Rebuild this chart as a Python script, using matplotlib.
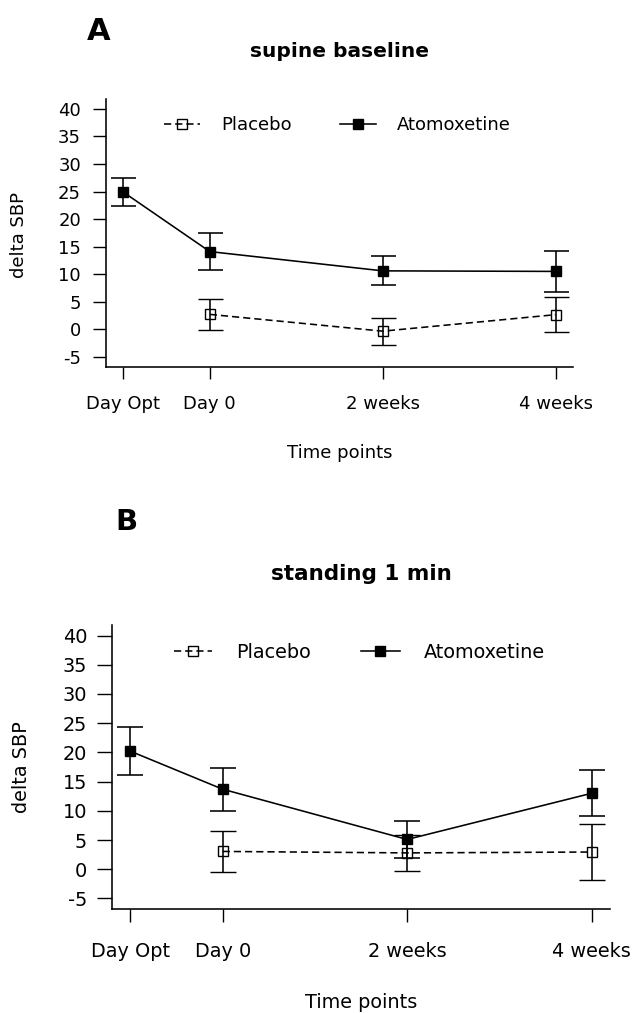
import matplotlib
matplotlib.use('Agg')
import matplotlib.pyplot as plt
from matplotlib.lines import Line2D

plt.rcParams['axes.unicode_minus'] = False

# ── data ─────────────────────────────────────────────────────────────────────
TIME_X      = [-1, 0, 2, 4]
TIME_LABELS = ['Day Opt', 'Day 0', '2 weeks', '4 weeks']
PLACEBO_X   = [0, 2, 4]
Y_TICKS     = [-5, 0, 5, 10, 15, 20, 25, 30, 35, 40]

# panel A: supine baseline
atom_a      = [24.9, 14.1, 10.6, 10.5]
atom_a_err  = [2.55, 3.4, 2.65, 3.75]
plac_a      = [2.7, -0.35, 2.65]
plac_a_err  = [2.85, 2.45, 3.2]

# panel B: standing 1 min
atom_b      = [20.2, 13.7, 5.1, 13.0]
atom_b_err  = [4.1, 3.7, 3.15, 3.95]
plac_b      = [3.05, 2.8, 2.95]
plac_b_err  = [3.5, 3.1, 4.85]

W, H = 633, 1013
LW = 1.15
DASH = (0, (4.5, 2.5))


def fx(px):
    return px / W


def fy(py):
    return 1 - py / H


def panel(fig, rect, letter, title, atom, atom_err, plac, plac_err, s, geo):
    ax = fig.add_axes(rect)
    ax.errorbar(PLACEBO_X, plac, yerr=plac_err, color='black', lw=LW,
                ls=DASH, marker='s', ms=6.8, mfc='none', mec='black',
                mew=1.0, capsize=geo['cap'], elinewidth=LW, capthick=LW)
    ax.errorbar(TIME_X, atom, yerr=atom_err, color='black', lw=LW, ls='-',
                marker='s', ms=6.8, mfc='black', mec='black',
                capsize=geo['cap'], elinewidth=LW, capthick=LW)

    ax.set_xlim(-1.2, 4.2)
    ax.set_ylim(-6.8, 41.8)
    ax.set_xticks(TIME_X)
    ax.set_xticklabels(TIME_LABELS)
    ax.set_yticks(Y_TICKS)
    ax.spines['top'].set_visible(False)
    ax.spines['right'].set_visible(False)
    for sp in ('left', 'bottom'):
        ax.spines[sp].set_linewidth(LW)
    ax.tick_params(axis='x', direction='out', length=geo['xlen'], width=1.0,
                   pad=geo['xpad'], labelsize=13 * s)
    ax.tick_params(axis='y', direction='out', length=geo['ylen'], width=1.0,
                   pad=geo['ypad'], labelsize=13 * s)

    handles = [
        Line2D([], [], color='black', lw=LW, ls=DASH, marker='s', ms=6.8,
               mfc='none', mec='black', mew=1.0),
        Line2D([], [], color='black', lw=LW, ls='-', marker='s', ms=6.8,
               mfc='black', mec='black'),
    ]
    ax.legend(handles, ['Placebo', 'Atomoxetine'], ncol=2, loc='center left',
              frameon=False,
              bbox_to_anchor=(fx(geo['leg_x']), fy(geo['leg_y'])),
              bbox_transform=fig.transFigure, fontsize=13 * s,
              borderpad=0, borderaxespad=0, handlelength=2.0,
              handletextpad=geo['htp'], columnspacing=geo['colsp'])

    fig.text(fx(geo['let_x']), fy(geo['let_y']), letter, fontsize=geo['let_fs'],
             fontweight='bold', va='baseline', ha='left')
    fig.text(fx(geo['cx']), fy(geo['title_y']), title, fontsize=14.5 * s,
             fontweight='bold', va='baseline', ha='center')
    fig.text(fx(geo['cx']), fy(geo['xlab_y']), 'Time points', fontsize=13 * s,
             va='baseline', ha='center')
    fig.text(fx(geo['ylab_x']), fy(geo['ylab_y']), 'delta SBP', fontsize=13 * s,
             rotation=90, va='center', ha='center')
    return ax


fig = plt.figure(figsize=(W / 100, H / 100), dpi=100)

panel(fig, [fx(106), fy(366.7), (573 - 106) / W, (366.7 - 99) / H],
      'A', 'supine baseline', atom_a, atom_a_err, plac_a, plac_a_err, 1.0,
      dict(cap=9.0, xlen=8.6, xpad=12, ylen=9.4, ypad=8.6,
           leg_x=164, leg_y=125, htp=1.16, colsp=2.69,
           let_x=87, let_y=40, let_fs=22, cx=339.5, title_y=56.7,
           xlab_y=458, ylab_x=19, ylab_y=235))

panel(fig, [fx(112), fy(909), (610 - 112) / W, (909 - 625) / H],
      'B', 'standing 1 min', atom_b, atom_b_err, plac_b, plac_b_err, 1.065,
      dict(cap=9.6, xlen=9.6, xpad=14, ylen=10.5, ypad=7.4,
           leg_x=174, leg_y=652, htp=1.25, colsp=2.6,
           let_x=115, let_y=529.5, let_fs=21, cx=361, title_y=580,
           xlab_y=1008, ylab_x=22, ylab_y=767))

fig.savefig('out.png', dpi=100)
